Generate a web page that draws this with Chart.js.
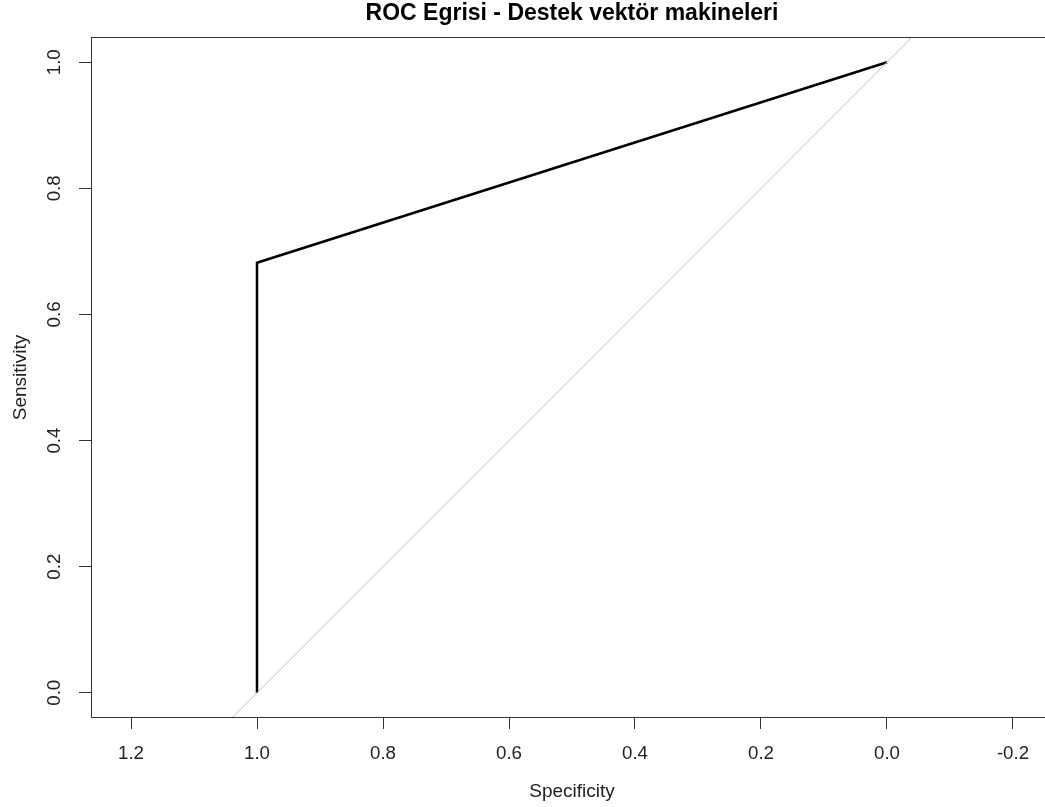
<!DOCTYPE html>
<html>
<head>
<meta charset="utf-8">
<script src="https://cdn.jsdelivr.net/npm/chart.js@4"></script>
<style>
  html, body { margin: 0; padding: 0; background: #fff; overflow: hidden; }
  #wrap { width: 1060px; height: 807px; position: relative; }
</style>
</head>
<body>
<div id="wrap"><canvas id="rocChart"></canvas></div>
<script>
// ROC curve points (specificity, sensitivity)
let specificity = [1.0, 1.0, 0.0];
let sensitivity = [0.0, 0.682, 1.0];
let xTicks = [1.2, 1.0, 0.8, 0.6, 0.4, 0.2, 0.0, -0.2];
let yTicks = [0.0, 0.2, 0.4, 0.6, 0.8, 1.0];
let xLimits = [-0.2635, 1.2635];
let yLimits = [-0.04, 1.04];

let titleText = "ROC Egrisi - Destek vektör makineleri";
let axisColor = "#333";
let fontFam = '"Liberation Sans", Arial, sans-serif';

let rocPoints = specificity.map((s, i) => ({ x: s, y: sensitivity[i] }));
// chance line sens = 1 - spec, spanning the whole x range
let diagPoints = [xLimits[1], xLimits[0]].map((x) => ({ x: x, y: 1 - x }));

let ctx = document.getElementById("rocChart");

const extras = {
  id: "extras",
  afterDraw(chart) {
    const c = chart.ctx;
    const a = chart.chartArea;
    const ys = chart.scales.y;
    c.save();
    // box
    c.strokeStyle = axisColor;
    c.lineWidth = 1;
    const l = Math.round(a.left) + 0.5, t = Math.round(a.top) + 0.5;
    const r = Math.round(a.right) - 0.5, b = Math.round(a.bottom) - 0.5;
    c.strokeRect(l, t, r - l, b - t);
    // title
    c.fillStyle = "#000";
    c.font = "bold 23px " + fontFam;
    c.textAlign = "center";
    c.textBaseline = "middle";
    c.fillText(titleText, (a.left + a.right) / 2, 14);
    // rotated y tick labels
    c.font = "18.7px " + fontFam;
    c.fillStyle = "#222";
    yTicks.forEach((v) => {
      c.save();
      c.translate(a.left - 36, ys.getPixelForValue(v));
      c.rotate(-Math.PI / 2);
      c.fillText(v.toFixed(1), 0, 0);
      c.restore();
    });
    c.restore();
  },
};

new Chart(ctx, {
  type: "scatter",
  data: {
    datasets: [
      {
        data: diagPoints,
        showLine: true,
        borderColor: "#bebebe",
        borderWidth: 1,
        pointRadius: 0,
      },
      {
        data: rocPoints,
        showLine: true,
        borderColor: "#000",
        borderWidth: 2.5,
        pointRadius: 0,
        tension: 0,
      },
    ],
  },
  options: {
    responsive: true,
    maintainAspectRatio: false,
    animation: false,
    layout: { padding: { left: 0, right: 7, top: 37, bottom: 0 } },
    plugins: {
      legend: { display: false },
      tooltip: { enabled: false },
    },
    scales: {
      x: {
        type: "linear",
        reverse: true,
        min: xLimits[0],
        max: xLimits[1],
        afterBuildTicks: (s) => { s.ticks = xTicks.map((v) => ({ value: v })); },
        afterFit: (s) => { s.height = 89; },
        grid: { drawOnChartArea: false, tickLength: 11, color: axisColor },
        border: { display: false },
        ticks: {
          padding: 14,
          maxRotation: 0,
          autoSkip: false,
          color: "#222",
          font: { family: fontFam, size: 18.7 },
          callback: (v) => Number(v).toFixed(1),
        },
        title: {
          display: true,
          text: "Specificity",
          color: "#222",
          font: { family: fontFam, size: 19 },
          padding: { top: 0, bottom: 4 },
        },
      },
      y: {
        type: "linear",
        min: yLimits[0],
        max: yLimits[1],
        afterBuildTicks: (s) => { s.ticks = yTicks.map((v) => ({ value: v })); },
        afterFit: (s) => { s.width = 91; },
        grid: { drawOnChartArea: false, tickLength: 12, color: axisColor },
        border: { display: false },
        ticks: { display: false },
        title: {
          display: true,
          text: "Sensitivity",
          color: "#222",
          font: { family: fontFam, size: 19 },
          padding: { top: 9, bottom: 0 },
        },
      },
    },
  },
  plugins: [extras],
});
</script>
</body>
</html>
